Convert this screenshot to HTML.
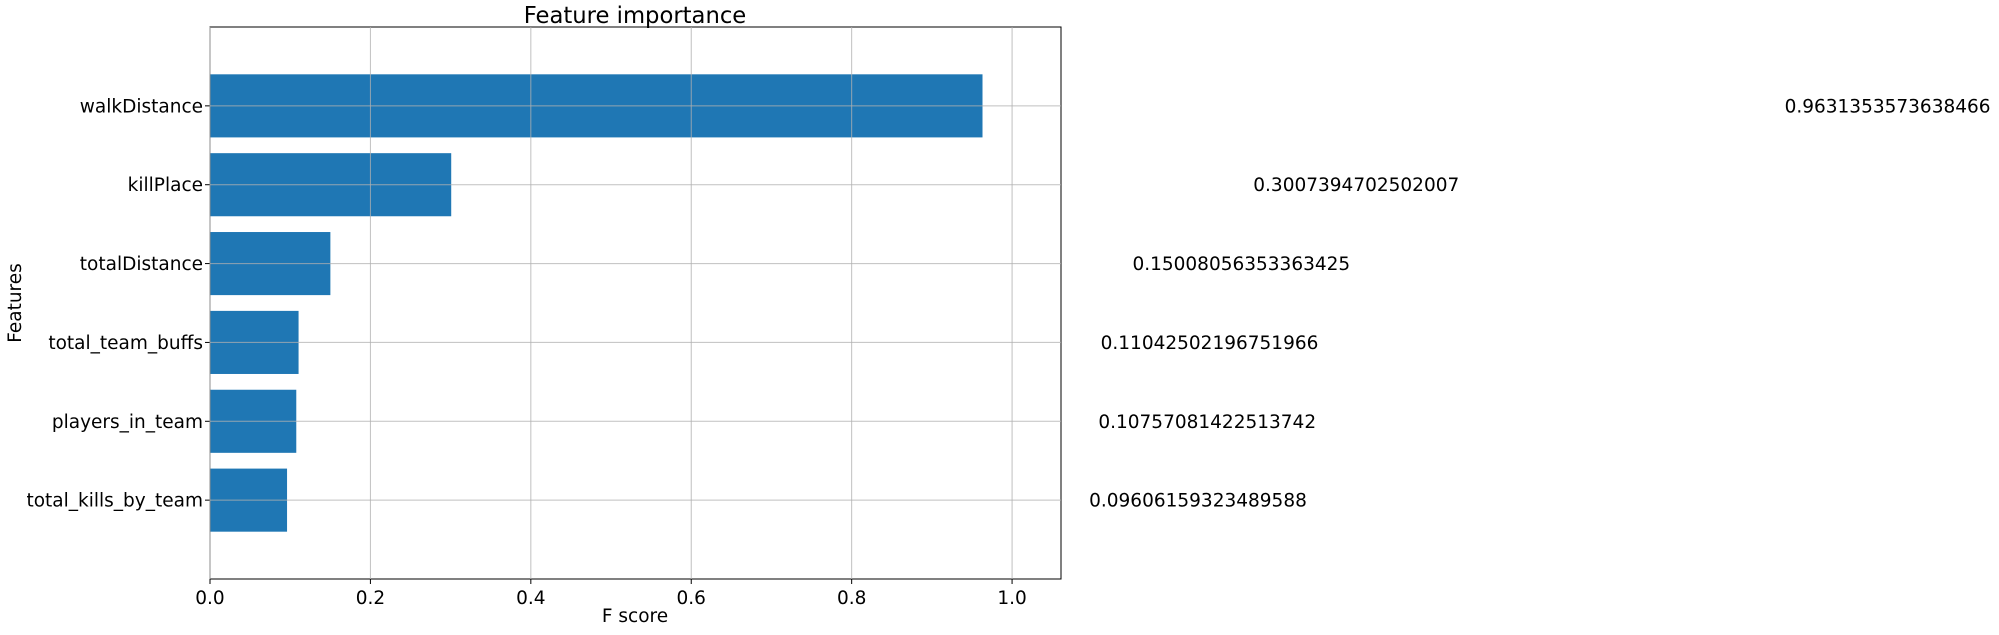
<!DOCTYPE html>
<html><head><meta charset="utf-8"><style>
body{margin:0;background:#fff;}
svg text{font-family:"DejaVu Sans","Liberation Sans",sans-serif;fill:#000;}
</style></head><body>
<svg id="chart" width="1999" height="630" xmlns="http://www.w3.org/2000/svg">
<text x="635" y="23" font-size="22.7" text-anchor="middle">Feature importance</text>
<g id="grid"></g><g id="bars"></g><g id="axes"></g><g id="labels"></g>
<text x="635" y="622" font-size="18.5" text-anchor="middle">F score</text>
<text transform="translate(21,303) rotate(-90)" font-size="18.5" text-anchor="middle">Features</text>
</svg>
<script>
const categories=["total_kills_by_team","players_in_team","total_team_buffs","totalDistance","killPlace","walkDistance"];
const values=[0.09606159323489588,0.10757081422513742,0.11042502196751966,0.15008056353363425,0.3007394702502007,0.9631353573638466];
const valueLabels=["0.09606159323489588","0.10757081422513742","0.11042502196751966","0.15008056353363425","0.3007394702502007","0.9631353573638466"];
const xTicks=[0,0.2,0.4,0.6,0.8,1.0];
const xTickLabels=["0.0","0.2","0.4","0.6","0.8","1.0"];
const L=210,R=1061,T=27,B=579,XMAX=1.061,YMIN=-1,YMAX=6;
const FS=18.5;
const xs=v=>L+v/XMAX*(R-L);
const ys=i=>B-(i-YMIN)/(YMAX-YMIN)*(B-T);
const NS="http://www.w3.org/2000/svg";
function mk(tag,attrs,parent,txt){const e=document.createElementNS(NS,tag);for(const k in attrs)e.setAttribute(k,attrs[k]);if(txt!==undefined)e.textContent=txt;document.getElementById(parent).appendChild(e);return e;}
const step=ys(0)-ys(1),bh=step*0.8;
categories.forEach((c,i)=>{
  const b=mk('rect',{x:L,y:ys(i)-bh/2,width:xs(values[i])-L,height:bh,fill:'#1f77b4'},'bars');
  
  
  const g=mk('line',{x1:L,x2:R,y1:ys(i),y2:ys(i),stroke:'#b0b0b0','stroke-opacity':0.8,'stroke-width':1},'labels');
  
  
  const t=mk('line',{x1:L-5,x2:L,y1:ys(i),y2:ys(i),stroke:'#000'},'axes');
  
  
  const tl=mk('text',{x:L-7,y:ys(i)+6.5,'font-size':FS,'text-anchor':'end'},'axes',c);
  
  
  const vl=mk('text',{x:xs(values[i]+1),y:ys(i)+6.5,'font-size':FS},'labels',valueLabels[i]);
  
  
});
xTicks.forEach((v,i)=>{
  const g=mk('line',{x1:xs(v),x2:xs(v),y1:T,y2:B,stroke:'#b0b0b0','stroke-opacity':0.8,'stroke-width':1},'labels');
  
  
  const t=mk('line',{x1:xs(v),x2:xs(v),y1:B,y2:B+5,stroke:'#000'},'axes');
  
  
  const tl=mk('text',{x:xs(v),y:B+25,'font-size':FS,'text-anchor':'middle'},'axes',xTickLabels[i]);
  
  
});
const f=mk('rect',{x:L,y:T,width:R-L,height:B-T,fill:'none',stroke:'#000','stroke-width':1},'axes');


</script>
</body></html>
